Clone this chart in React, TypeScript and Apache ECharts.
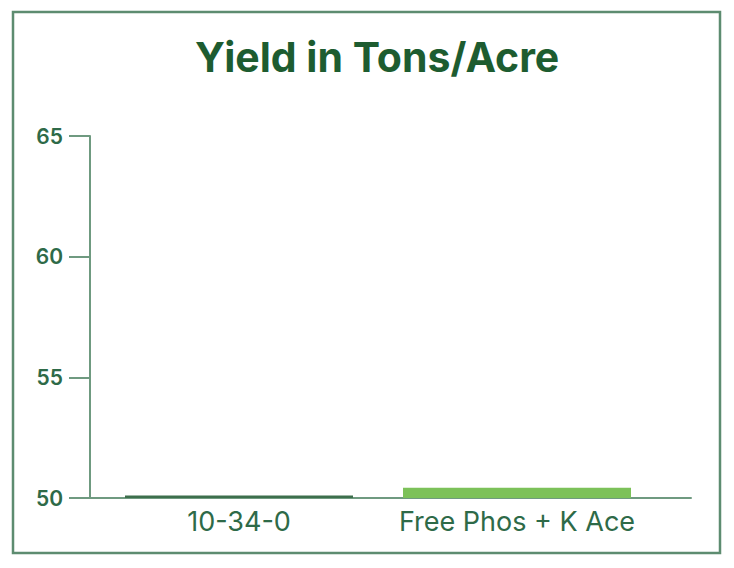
import React, { useEffect, useRef } from "react";
import * as echarts from "echarts";

const title = "Yield in Tons/Acre";
const categories = ["10-34-0", "Free Phos + K Ace"];
const yields = [50.1, 50.42];
const barColors = ["#3d6f4c", "#7cc159"];
const yMin = 50;
const yMax = 65;
const yInterval = 5;

export default function App() {
  const ref = useRef<HTMLDivElement>(null);
  useEffect(() => {
    if (!ref.current) return;
    const chart = echarts.init(ref.current, null, { renderer: "svg" });
    const axisColor = "#6f9a80";
    const labelColor = "#2e6a48";
    chart.setOption({
      animation: false,
      backgroundColor: "#ffffff",
      title: {
        text: title,
        left: 190,
        top: 31,
        textStyle: {
          color: "#1d5c30",
          fontSize: 41,
          fontWeight: "bold",
          fontFamily: "Inter",
        },
      },
      graphic: [
        {
          type: "rect",
          shape: { x: 13, y: 12, width: 707, height: 541 },
          style: { fill: "none", stroke: "#5d8c70", lineWidth: 2.5 },
          silent: true,
        },
      ],
      grid: [
        { left: 100, right: 78, top: 136, bottom: 70 },
        { left: 90, right: 43, top: 136, bottom: 70 },
      ],
      xAxis: [
        {
          type: "category",
          gridIndex: 0,
          data: categories,
          axisLine: { show: false },
          axisTick: { show: false },
          axisLabel: {
            interval: 0,
            hideOverlap: false,
            color: labelColor,
            fontSize: 27,
            fontFamily: "Inter",
            margin: 10,
          },
        },
        {
          type: "value",
          gridIndex: 1,
          min: 0,
          max: 1,
          axisLine: { show: true, lineStyle: { color: axisColor, width: 2 } },
          axisTick: { show: false },
          axisLabel: { show: false },
          splitLine: { show: false },
        },
      ],
      yAxis: [
        {
          type: "value",
          gridIndex: 0,
          min: yMin,
          max: yMax,
          interval: yInterval,
          show: false,
        },
        {
          type: "value",
          gridIndex: 1,
          min: yMin,
          max: yMax,
          interval: yInterval,
          axisLine: { show: true, lineStyle: { color: axisColor, width: 2 } },
          axisTick: { show: true, length: 21, lineStyle: { color: axisColor, width: 2 } },
          axisLabel: {
            color: labelColor,
            fontSize: 21,
            fontFamily: "Inter",
            fontWeight: 600,
            margin: 27,
          },
          splitLine: { show: false },
        },
      ],
      series: [
        {
          type: "bar",
          xAxisIndex: 0,
          yAxisIndex: 0,
          barWidth: 228,
          data: yields.map((v, i) => ({ value: v, itemStyle: { color: barColors[i] } })),
        },
      ],
    });
    return () => chart.dispose();
  }, []);
  return (
    <div
      ref={ref}
      style={{ position: "fixed", left: 0, top: 0, width: 734, height: 568 }}
    />
  );
}
